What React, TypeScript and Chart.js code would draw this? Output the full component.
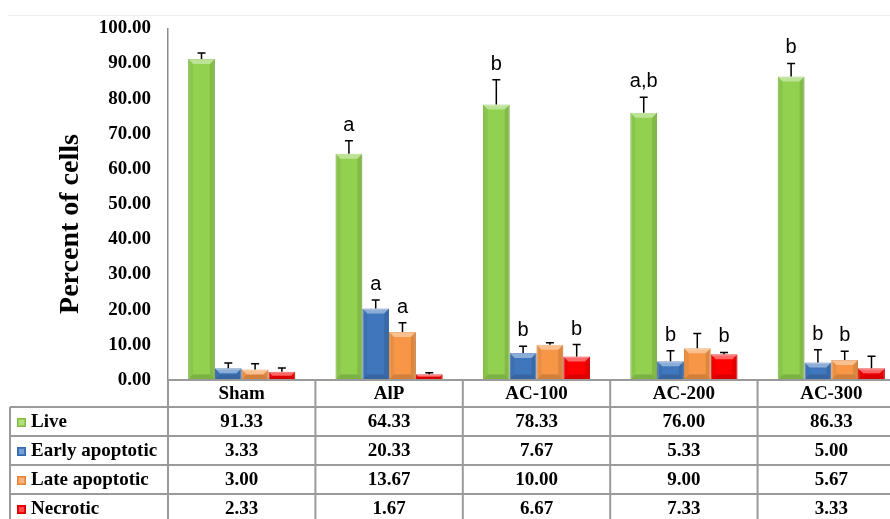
import React, { useEffect, useRef } from 'react';
import { Chart, registerables } from 'chart.js';

Chart.register(...registerables);

const categories = ['Sham', 'AlP', 'AC-100', 'AC-200', 'AC-300'];
const seriesNames = ['Live', 'Early apoptotic', 'Late apoptotic', 'Necrotic'];
const liveValues = [91.33, 64.33, 78.33, 76.0, 86.33];
const earlyValues = [3.33, 20.33, 7.67, 5.33, 5.0];
const lateValues = [3.0, 13.67, 10.0, 9.0, 5.67];
const necroticValues = [2.33, 1.67, 6.67, 7.33, 3.33];
const liveErrors = [1.7, 3.7, 7.1, 4.4, 3.7];
const earlyErrors = [1.5, 2.4, 1.9, 3.0, 3.6];
const lateErrors = [1.6, 2.6, 0.6, 4.2, 2.5];
const necroticErrors = [1.1, 0.4, 3.4, 0.5, 3.4];
const liveLetters = ['', 'a', 'b', 'a,b', 'b'];
const earlyLetters = ['', 'a', 'b', 'b', 'b'];
const lateLetters = ['', 'a', '', '', 'b'];
const necroticLetters = ['', '', 'b', 'b', ''];
const yMin = 0;
const yMax = 100;
const yStep = 10;
const yTitle = 'Percent of cells';

const seriesValues = [liveValues, earlyValues, lateValues, necroticValues];
const seriesErrors = [liveErrors, earlyErrors, lateErrors, necroticErrors];
const seriesLetters = [liveLetters, earlyLetters, lateLetters, necroticLetters];
const seriesColors = ['#92D050', '#4077BC', '#F79646', '#FF0000'];
const seriesBorders = ['#80BC45', '#3568A8', '#E0843A', '#D80000'];

const CANVAS_W = 905;
const CANVAS_H = 519;
const SERIF = '"Liberation Serif", "Times New Roman", serif';
const SANS = '"Liberation Sans", Arial, sans-serif';

function poly(ctx: CanvasRenderingContext2D, pts: number[][], fill: string) {
  ctx.beginPath();
  ctx.moveTo(pts[0][0], pts[0][1]);
  for (let i = 1; i < pts.length; i++) ctx.lineTo(pts[i][0], pts[i][1]);
  ctx.closePath();
  ctx.fillStyle = fill;
  ctx.fill();
}

const bevelPlugin = {
  id: 'bevel',
  afterDatasetsDraw(chart: any) {
    const ctx: CanvasRenderingContext2D = chart.ctx;
    ctx.save();
    chart.data.datasets.forEach((_ds: any, di: number) => {
      const meta = chart.getDatasetMeta(di);
      meta.data.forEach((el: any) => {
        const { x, y, base, width } = el.getProps(['x', 'y', 'base', 'width'], true);
        const l = x - width / 2;
        const r = x + width / 2;
        const t = Math.min(y, base);
        const b = Math.max(y, base);
        const h = b - t;
        const bv = Math.min(5, h / 2, width / 4);
        poly(ctx, [[l, t], [r, t], [r - bv, t + bv], [l + bv, t + bv]], 'rgba(255,255,255,0.4)');
        poly(ctx, [[l, t], [l + bv, t + bv], [l + bv, b - bv], [l, b]], 'rgba(0,0,0,0.05)');
        poly(ctx, [[r, t], [r - bv, t + bv], [r - bv, b - bv], [r, b]], 'rgba(0,0,0,0.1)');
        poly(ctx, [[l, b], [l + bv, b - bv], [r - bv, b - bv], [r, b]], 'rgba(0,0,0,0.15)');
      });
    });
    ctx.restore();
  },
};

const errorPlugin = {
  id: 'errors',
  afterDatasetsDraw(chart: any) {
    const ctx: CanvasRenderingContext2D = chart.ctx;
    const yScale = chart.scales.y;
    ctx.save();
    chart.data.datasets.forEach((_ds: any, di: number) => {
      const meta = chart.getDatasetMeta(di);
      meta.data.forEach((el: any, j: number) => {
        const { x, y } = el.getProps(['x', 'y'], true);
        const v = seriesValues[di][j];
        const top = yScale.getPixelForValue(v + seriesErrors[di][j]);
        ctx.strokeStyle = '#000';
        ctx.lineWidth = 1.5;
        ctx.beginPath();
        ctx.moveTo(x, y);
        ctx.lineTo(x, top);
        ctx.moveTo(x - 4, top);
        ctx.lineTo(x + 4, top);
        ctx.stroke();
        const letter = seriesLetters[di][j];
        if (letter) {
          ctx.fillStyle = '#000';
          ctx.font = `20px ${SANS}`;
          ctx.textAlign = 'center';
          ctx.textBaseline = 'alphabetic';
          ctx.fillText(letter, x, top - 10);
        }
      });
    });
    ctx.restore();
  },
};

const tablePlugin = {
  id: 'dataTable',
  afterDraw(chart: any) {
    const ctx: CanvasRenderingContext2D = chart.ctx;
    const xScale = chart.scales.x;
    const area = chart.chartArea;
    const n = categories.length;
    const colW = (area.right - area.left) / n;
    const left0 = 10;
    const rowLines = [area.bottom, area.bottom + 27, area.bottom + 56, area.bottom + 85, area.bottom + 114, area.bottom + 143];
    ctx.save();
    ctx.strokeStyle = '#efefef';
    ctx.lineWidth = 1;
    ctx.beginPath();
    ctx.moveTo(8, 15.5);
    ctx.lineTo(CANVAS_W, 15.5);
    ctx.stroke();

    ctx.strokeStyle = '#9a9a9a';
    ctx.lineWidth = 2;
    ctx.beginPath();
    ctx.moveTo(area.left, rowLines[0]);
    ctx.lineTo(CANVAS_W, rowLines[0]);
    for (let r = 1; r < rowLines.length; r++) {
      ctx.moveTo(left0, rowLines[r]);
      ctx.lineTo(CANVAS_W, rowLines[r]);
    }
    ctx.moveTo(left0, rowLines[1]);
    ctx.lineTo(left0, rowLines[rowLines.length - 1]);
    for (let i = 0; i <= n; i++) {
      const vx = area.left + i * colW;
      ctx.moveTo(vx, rowLines[0]);
      ctx.lineTo(vx, rowLines[rowLines.length - 1]);
    }
    ctx.stroke();

    ctx.fillStyle = '#000';
    ctx.font = `bold 19px ${SERIF}`;
    ctx.textAlign = 'center';
    ctx.textBaseline = 'middle';
    categories.forEach((c, i) => {
      const cx = xScale.getPixelForValue(i);
      ctx.fillText(c, cx, (rowLines[0] + rowLines[1]) / 2 + 1);
    });
    seriesNames.forEach((name, s) => {
      const cy = (rowLines[s + 1] + rowLines[s + 2]) / 2 + 1;
      const kx = 17;
      const ks = 9;
      ctx.fillStyle = seriesColors[s];
      ctx.fillRect(kx, cy - ks / 2, ks, ks);
      ctx.fillStyle = 'rgba(255,255,255,0.3)';
      ctx.fillRect(kx + 2, cy - ks / 2 + 2, ks - 4, ks - 4);
      ctx.strokeStyle = seriesBorders[s];
      ctx.lineWidth = 1;
      ctx.strokeRect(kx + 0.5, cy - ks / 2 + 0.5, ks - 1, ks - 1);
      ctx.fillStyle = '#000';
      ctx.textAlign = 'left';
      ctx.fillText(name, 31, cy);
      ctx.textAlign = 'center';
      seriesValues[s].forEach((v, i) => {
        const cx = xScale.getPixelForValue(i);
        ctx.fillText(v.toFixed(2), cx, cy);
      });
    });

    ctx.save();
    ctx.translate(71, 224);
    ctx.rotate(-Math.PI / 2);
    ctx.font = `bold 28px ${SERIF}`;
    ctx.textAlign = 'center';
    ctx.textBaseline = 'middle';
    ctx.fillText(yTitle, 0, 0);
    ctx.restore();
    ctx.restore();
  },
};

export default function App() {
  const ref = useRef<HTMLCanvasElement | null>(null);
  useEffect(() => {
    document.body.style.margin = '0';
    const canvas = ref.current;
    if (!canvas) return;
    const chart = new Chart(canvas, {
      type: 'bar',
      data: {
        labels: categories,
        datasets: seriesNames.map((name, s) => ({
          label: name,
          data: seriesValues[s],
          backgroundColor: seriesColors[s],
          borderColor: seriesBorders[s],
          borderWidth: 1,
          categoryPercentage: 0.727,
          barPercentage: 1.0,
        })),
      },
      options: {
        responsive: false,
        animation: false,
        devicePixelRatio: 1,
        layout: { padding: { left: 0, right: 0, top: 23, bottom: CANVAS_H - 380 } },
        plugins: {
          legend: { display: false },
          tooltip: { enabled: false },
          title: { display: false },
        },
        scales: {
          x: {
            display: false,
          },
          y: {
            min: yMin,
            max: yMax,
            afterFit: (s: any) => {
              s.width = 168;
            },
            ticks: {
              stepSize: yStep,
              color: '#000',
              padding: 17,
              font: { family: SERIF, size: 19, weight: 'bold' },
              callback: (v: any) => Number(v).toFixed(2),
            },
            grid: { display: true, drawOnChartArea: false, drawTicks: false, color: 'rgba(0,0,0,0)' },
            border: { display: true, color: '#8c8c8c', width: 1.5 },
          },
        },
      } as any,
      plugins: [bevelPlugin, errorPlugin, tablePlugin],
    });
    return () => chart.destroy();
  }, []);
  return (
    <div style={{ position: 'absolute', left: 0, top: 0, width: 890, height: CANVAS_H, overflow: 'hidden', background: '#fff' }}>
      <canvas ref={ref} width={CANVAS_W} height={CANVAS_H} style={{ display: 'block', width: CANVAS_W, height: CANVAS_H }} />
    </div>
  );
}
